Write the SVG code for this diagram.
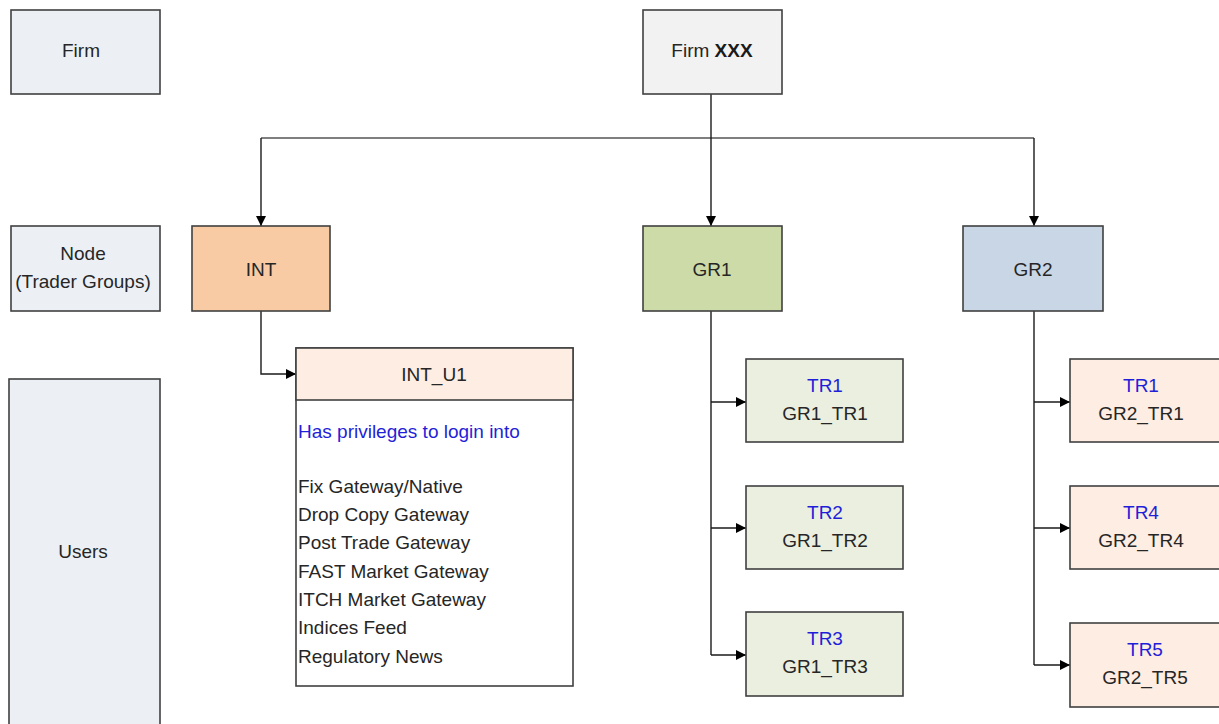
<svg xmlns="http://www.w3.org/2000/svg" width="1219" height="724" viewBox="0 0 1219 724">
<defs>
<style>
.box{stroke:#404040;stroke-width:1.6}
.lbl{fill:#ecf0f5}
.t{font-family:"Liberation Sans",Arial,sans-serif;font-size:19px;fill:#262626}
.c{text-anchor:middle}
.b{fill:#1f1fd9}
.ln{fill:none;stroke:#1a1a1a;stroke-width:1.4}
.lg{fill:none;stroke:#7f7f7f;stroke-width:2}
</style>
<marker id="ah" viewBox="0 0 10 10" refX="10" refY="5" markerWidth="10" markerHeight="10" markerUnits="userSpaceOnUse" orient="auto">
<path d="M0,0 L10,5 L0,10 z" fill="#000"/>
</marker>
</defs>
<rect width="1219" height="724" fill="#fff"/>

<g id="connectors">
<path class="lg" d="M261,138 H1034"/>
<path class="ln" d="M711,94 V226" marker-end="url(#ah)"/>
<path class="ln" d="M261,138 V226" marker-end="url(#ah)"/>
<path class="ln" d="M1034,138 V226" marker-end="url(#ah)"/>
<path class="ln" d="M261,311 V374 H296" marker-end="url(#ah)"/>
<path class="ln" d="M711,311 V655"/>
<path class="ln" d="M711,402 H746" marker-end="url(#ah)"/>
<path class="ln" d="M711,528 H746" marker-end="url(#ah)"/>
<path class="ln" d="M711,655 H746" marker-end="url(#ah)"/>
<path class="ln" d="M1034,311 V665"/>
<path class="ln" d="M1034,402 H1070" marker-end="url(#ah)"/>
<path class="ln" d="M1034,528 H1070" marker-end="url(#ah)"/>
<path class="ln" d="M1034,665 H1070" marker-end="url(#ah)"/>
</g>

<g id="label-firm">
<rect class="box lbl" x="11" y="10" width="149" height="84"/>
<text class="t c" x="81" y="57">Firm</text>
</g>
<g id="label-node">
<rect class="box lbl" x="11" y="226" width="149" height="85"/>
<text class="t c" x="83" y="260">Node</text>
<text class="t c" x="83" y="288">(Trader Groups)</text>
</g>
<g id="label-users">
<rect class="box lbl" x="9" y="379" width="151" height="360"/>
<text class="t c" x="83" y="558">Users</text>
</g>

<g id="firm-xxx">
<rect class="box" x="643" y="10" width="139" height="84" fill="#f2f2f2"/>
<text class="t c" x="712" y="57">Firm <tspan font-weight="bold" fill="#1a1a1a">XXX</tspan></text>
</g>

<g id="int">
<rect class="box" x="192" y="226" width="138" height="85" fill="#f8cba5"/>
<text class="t c" x="261" y="276">INT</text>
</g>
<g id="gr1">
<rect class="box" x="643" y="226" width="139" height="85" fill="#cddba9"/>
<text class="t c" x="712" y="276">GR1</text>
</g>
<g id="gr2">
<rect class="box" x="963" y="226" width="140" height="85" fill="#c9d6e5"/>
<text class="t c" x="1033" y="276">GR2</text>
</g>

<g id="int-u1">
<rect class="box" x="296" y="348" width="277" height="338" fill="#fff"/>
<rect class="box" x="296" y="348" width="277" height="52" fill="#fdede2"/>
<text class="t c" x="434" y="381">INT_U1</text>
<text class="t b" x="298" y="438">Has privileges to login into</text>
<text class="t" x="298" y="493">Fix Gateway/Native</text>
<text class="t" x="298" y="521">Drop Copy Gateway</text>
<text class="t" x="298" y="549">Post Trade Gateway</text>
<text class="t" x="298" y="578">FAST Market Gateway</text>
<text class="t" x="298" y="606">ITCH Market Gateway</text>
<text class="t" x="298" y="634">Indices Feed</text>
<text class="t" x="298" y="663">Regulatory News</text>
</g>

<g id="gr1-tr1">
<rect class="box" x="746" y="359" width="157" height="83" fill="#ebefdf"/>
<text class="t c b" x="825" y="392">TR1</text>
<text class="t c" x="825" y="420">GR1_TR1</text>
</g>
<g id="gr1-tr2">
<rect class="box" x="746" y="486" width="157" height="83" fill="#ebefdf"/>
<text class="t c b" x="825" y="519">TR2</text>
<text class="t c" x="825" y="547">GR1_TR2</text>
</g>
<g id="gr1-tr3">
<rect class="box" x="746" y="612" width="157" height="84" fill="#ebefdf"/>
<text class="t c b" x="825" y="645">TR3</text>
<text class="t c" x="825" y="673">GR1_TR3</text>
</g>

<g id="gr2-tr1">
<rect class="box" x="1070" y="359" width="150" height="83" fill="#fdede2"/>
<text class="t c b" x="1141" y="392">TR1</text>
<text class="t c" x="1141" y="420">GR2_TR1</text>
</g>
<g id="gr2-tr4">
<rect class="box" x="1070" y="486" width="150" height="83" fill="#fdede2"/>
<text class="t c b" x="1141" y="519">TR4</text>
<text class="t c" x="1141" y="547">GR2_TR4</text>
</g>
<g id="gr2-tr5">
<rect class="box" x="1070" y="623" width="150" height="84" fill="#fdede2"/>
<text class="t c b" x="1145" y="656">TR5</text>
<text class="t c" x="1145" y="684">GR2_TR5</text>
</g>
</svg>
